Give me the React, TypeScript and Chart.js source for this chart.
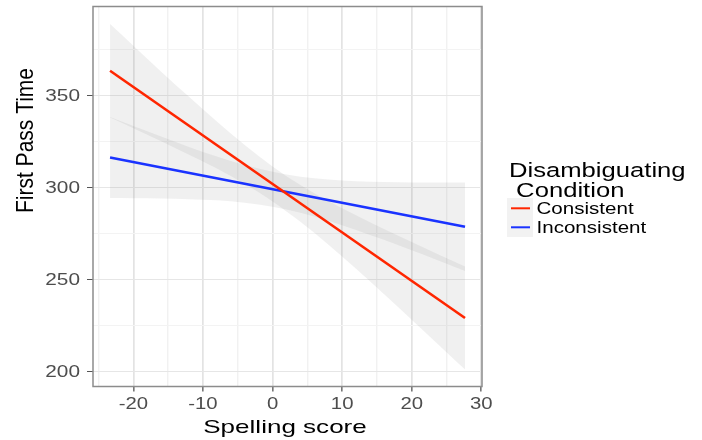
import React, { useEffect, useRef } from "react";
import { Chart, registerables } from "chart.js";

Chart.register(...registerables);

// ---- data ----
const fitX = [-23.35, 27.66];
const consistentFit = [363.2, 228.8];
const inconsistentFit = [316.0, 278.4];

const bandX = [-23.35, -20, -16, -12, -8, -4, 0, 4, 8, 12, 16, 20, 24, 27.66];
const consistentUpper = [388.6, 376.8, 362.7, 349.0, 335.6, 322.8, 311.2, 301.1, 292.4, 284.6, 277.2, 270.1, 263.0, 256.8];
const consistentLower = [337.8, 332.0, 324.9, 317.6, 310.0, 301.6, 292.2, 281.1, 268.8, 255.6, 241.8, 227.9, 213.8, 200.8];
const inconsistentUpper = [338.0, 333.1, 327.4, 321.8, 316.6, 312.0, 308.3, 305.6, 304.1, 303.1, 302.7, 302.4, 302.4, 302.4];
const inconsistentLower = [294.0, 293.9, 293.8, 293.4, 292.8, 291.4, 289.3, 286.0, 281.7, 276.7, 271.3, 265.6, 259.8, 254.4];

const xMajorTicks = [-20, -10, 0, 10, 20, 30];
const xMinorTicks = [-25, -15, -5, 5, 15, 25];
const yMajorTicks = [200, 250, 300, 350];
const yMinorTicks = [225, 275, 325, 375];

const seriesNames = ["Consistent", "Inconsistent"];
const seriesColors = ["#ff2600", "#1a33ff"];
const legendTitle = ["Disambiguating", " Condition"];
const xTitle = "Spelling score";
const yTitle = "First Pass Time";

const FONT = "'Liberation Sans', Arial, sans-serif";
const BAND_FILL = "rgba(128,128,128,0.12)";

function pts(xs: number[], ys: number[]) {
  return xs.map((x, i) => ({ x, y: ys[i] }));
}

function stretchText(
  ctx: CanvasRenderingContext2D,
  text: string,
  x: number,
  y: number,
  size: number,
  sx: number,
  align: CanvasTextAlign,
  color: string
) {
  ctx.save();
  ctx.translate(x, y);
  ctx.scale(sx, 1);
  ctx.font = `${size}px ${FONT}`;
  ctx.fillStyle = color;
  ctx.textAlign = align;
  ctx.textBaseline = "alphabetic";
  ctx.fillText(text, 0, 0);
  ctx.restore();
}

const decorPlugin = {
  id: "decor",
  afterDraw(chart: any) {
    const ctx: CanvasRenderingContext2D = chart.ctx;
    const { left, right, top, bottom } = chart.chartArea;
    const xs = chart.scales.x;
    const ys = chart.scales.y;

    // panel border
    ctx.save();
    ctx.strokeStyle = "#8c8c8c";
    ctx.lineWidth = 1.5;
    ctx.strokeRect(left, top, right - left, bottom - top);
    ctx.restore();

    // tick labels
    xMajorTicks.forEach((v) => {
      stretchText(ctx, String(v), xs.getPixelForValue(v), 409, 16, 1.27, "center", "#4d4d4d");
    });
    yMajorTicks.forEach((v) => {
      stretchText(ctx, String(v), 80, ys.getPixelForValue(v) + 5.8, 16, 1.3, "right", "#4d4d4d");
    });

    // axis titles
    stretchText(ctx, xTitle, 285, 433, 19, 1.37, "center", "#000");
    ctx.save();
    ctx.translate(32.5, 140.5);
    ctx.rotate(-Math.PI / 2);
    ctx.scale(1, 1.15);
    ctx.font = `21px ${FONT}`;
    ctx.fillStyle = "#000";
    ctx.textAlign = "center";
    ctx.textBaseline = "alphabetic";
    ctx.fillText(yTitle, 0, 0);
    ctx.restore();

    // legend
    stretchText(ctx, legendTitle[0], 509, 176.5, 20.5, 1.25, "left", "#000");
    stretchText(ctx, legendTitle[1], 509, 196.5, 20.5, 1.25, "left", "#000");
    ctx.save();
    ctx.fillStyle = "#f2f2f2";
    ctx.fillRect(507, 198, 26, 39);
    ctx.lineWidth = 2;
    const keyY = [208.3, 227.3];
    seriesNames.forEach((name, i) => {
      ctx.strokeStyle = seriesColors[i];
      ctx.beginPath();
      ctx.moveTo(511, keyY[i]);
      ctx.lineTo(530, keyY[i]);
      ctx.stroke();
    });
    ctx.restore();
    const textY = [214, 233];
    seriesNames.forEach((name, i) => {
      stretchText(ctx, name, 536.5, textY[i], 16, 1.285, "left", "#000");
    });
  },
};

export default function App() {
  const canvasRef = useRef<HTMLCanvasElement | null>(null);

  useEffect(() => {
    const canvas = canvasRef.current;
    if (!canvas) return;
    const isIn = (arr: number[], v: number) => arr.some((a) => Math.abs(a - v) < 1e-6);

    const chart = new Chart(canvas, {
      type: "line",
      data: {
        datasets: [
          {
            label: seriesNames[0],
            data: pts(fitX, consistentFit),
            borderColor: seriesColors[0],
            borderWidth: 2.6,
            pointRadius: 0,
            fill: false,
          },
          {
            label: seriesNames[1],
            data: pts(fitX, inconsistentFit),
            borderColor: seriesColors[1],
            borderWidth: 2.6,
            pointRadius: 0,
            fill: false,
          },
          {
            label: "consistent upper",
            data: pts(bandX, consistentUpper),
            borderWidth: 0,
            borderColor: "rgba(0,0,0,0)",
            backgroundColor: BAND_FILL,
            pointRadius: 0,
            cubicInterpolationMode: "monotone",
            fill: "+1",
          },
          {
            label: "consistent lower",
            data: pts(bandX, consistentLower),
            borderWidth: 0,
            borderColor: "rgba(0,0,0,0)",
            pointRadius: 0,
            cubicInterpolationMode: "monotone",
            fill: false,
          },
          {
            label: "inconsistent upper",
            data: pts(bandX, inconsistentUpper),
            borderWidth: 0,
            borderColor: "rgba(0,0,0,0)",
            backgroundColor: BAND_FILL,
            pointRadius: 0,
            cubicInterpolationMode: "monotone",
            fill: "+1",
          },
          {
            label: "inconsistent lower",
            data: pts(bandX, inconsistentLower),
            borderWidth: 0,
            borderColor: "rgba(0,0,0,0)",
            pointRadius: 0,
            cubicInterpolationMode: "monotone",
            fill: false,
          },
        ],
      },
      options: {
        animation: false,
        responsive: false,
        maintainAspectRatio: false,
        layout: { padding: { top: 6.5, right: 220, left: 0, bottom: 0 } },
        plugins: {
          legend: { display: false },
          tooltip: { enabled: false },
        },
        elements: { point: { radius: 0 } },
        scales: {
          x: {
            type: "linear",
            min: -25.8,
            max: 30.1,
            afterBuildTicks: (s: any) => {
              s.ticks = [...xMinorTicks, ...xMajorTicks]
                .sort((a, b) => a - b)
                .map((v) => ({ value: v }));
            },
            afterFit: (s: any) => {
              s.height = 53.5;
            },
            ticks: { display: false },
            border: { display: false },
            grid: {
              drawTicks: true,
              tickLength: 5,
              color: (c: any) => (isIn(xMajorTicks, c.tick?.value) ? "#e3e3e3" : "#f1f1f1"),
              lineWidth: (c: any) => (isIn(xMajorTicks, c.tick?.value) ? 1.7 : 1.4),
              tickColor: (c: any) => (isIn(xMajorTicks, c.tick?.value) ? "#555" : "rgba(0,0,0,0)"),
              tickWidth: 1.3,
            },
          },
          y: {
            type: "linear",
            min: 191.6,
            max: 398.1,
            afterBuildTicks: (s: any) => {
              s.ticks = [...yMinorTicks, ...yMajorTicks]
                .sort((a, b) => a - b)
                .map((v) => ({ value: v }));
            },
            afterFit: (s: any) => {
              s.width = 93;
            },
            ticks: { display: false },
            border: { display: false },
            grid: {
              drawTicks: true,
              tickLength: 6,
              color: (c: any) => (isIn(yMajorTicks, c.tick?.value) ? "#e6e6e6" : "#f3f3f3"),
              lineWidth: 1,
              tickColor: (c: any) => (isIn(yMajorTicks, c.tick?.value) ? "#555" : "rgba(0,0,0,0)"),
              tickWidth: 1,
            },
          },
        },
      },
      plugins: [decorPlugin],
    } as any);

    return () => {
      chart.destroy();
    };
  }, []);

  return (
    <div style={{ position: "absolute", left: 0, top: 0, width: 702, height: 440, background: "#fff" }}>
      <canvas ref={canvasRef} width={702} height={440} style={{ display: "block" }} />
    </div>
  );
}
